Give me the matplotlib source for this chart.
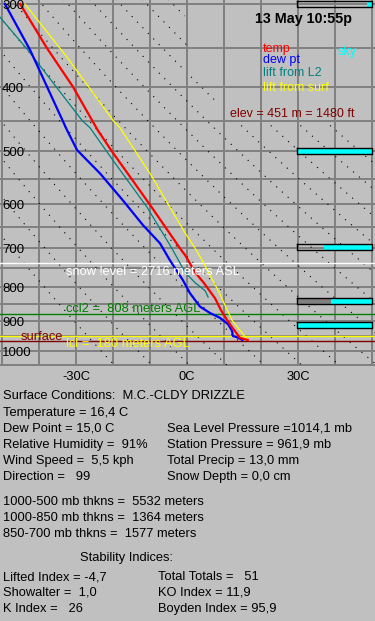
import numpy as np
import matplotlib.pyplot as plt
from matplotlib.transforms import offset_copy

plt.rcParams['font.family'] = ['Liberation Sans', 'DejaVu Sans']

# sounding profiles (pressure mb, temperature C)
temp_p = [300, 350, 400, 465, 500, 602, 700, 717, 761, 790, 833, 868, 899, 924, 940, 955, 962]
temp_t = [-45.1, -37.8, -30.8, -24.1, -20.3, -10.0, -1.9, -0.5, 2.2, 4.6, 7.6, 9.2, 10.9, 12.4, 13.4, 14.3, 16.4]

dew_p = [300, 352, 400, 465, 498, 540, 593, 646, 688, 730, 782, 818, 857, 876, 891, 911, 933, 949, 953, 962]
dew_t = [-49.2, -42.4, -37.8, -32.4, -29.7, -23.5, -17.3, -11.9, -7.3, -4.6, -1.1, 0.8, 3.5, 6.2, 8.9, 11.1, 12.2, 12.4, 13.5, 15.0]

l2_p = [309.5, 352, 449, 461, 516, 607, 700, 761, 789, 811, 829]
l2_t = [-51.5, -43.0, -28.4, -26.2, -20.0, -10.8, -4.1, -0.5, 2.2, 4.9, 5.7]

surf_p = [300, 361, 449, 461, 540, 664, 681, 700, 730, 810, 899, 962]
surf_t = [-43.8, -32.4, -20.0, -18.1, -10.0, -0.5, 0.8, 2.2, 4.1, 8.4, 12.2, 16.4]

# sky cover bars
sky_p = [300, 500, 697, 840, 912]
sky_cyan = [0.07, 1.0, 0.64, 0.55, 1.0]
sky_dark = [0.0, 0.0, 0.0, 0.45, 0.0]

# level lines
snow_p, ccl_p, lcl_p, sfc_p = 735.6, 880, 949, 965

p_labels = [300, 400, 500, 600, 700, 800, 900, 1000]
t_labels = [-30, 0, 30]
thetas = np.arange(250, 400, 10)

W, H = 375, 621
BG = '#c0c0c0'
fig = plt.figure(figsize=(W / 100, H / 100), dpi=100, facecolor=BG)
ax = fig.add_axes([0, 1 - 366 / H, 1, 366 / H])
ax.set_yscale('log')
ax.set_xlim(-50.54, 50.81)
ax.set_ylim(1053, 295.86)
ax.axis('off')

for p in range(300, 1051, 50):
    ax.axhline(p, color='#808080', lw=1.4, zorder=1)
for t in range(-50, 51, 10):
    ax.axvline(t, color='#808080', lw=1.4, zorder=1)

# dry adiabats, dotted (kept out of the legend corner)
pp = np.linspace(295, 1053, 300)
for th in thetas:
    tt = th * (pp / 1000) ** 0.286 - 273.15
    tt = np.where(((pp < 455) & (tt > 9)) | ((pp < 385) & (tt > 0)), np.nan, tt)
    ax.plot(tt, pp, color='black', lw=0.8, ls=(0, (1, 6)), zorder=2)

# level lines
ax.axhline(snow_p, color='white', lw=1, zorder=3)
ax.axhline(ccl_p, color='#008000', lw=1, zorder=3)
ax.axhline(lcl_p, color='#ffff00', lw=1, zorder=3)
ax.axhline(sfc_p, color='#800000', lw=1, zorder=3)

# profiles
ax.plot(l2_t, l2_p, color='#008080', lw=0.9, zorder=4)
ax.plot(surf_t, surf_p, color='#ffff00', lw=0.9, zorder=4)
ax.plot(dew_t, dew_p, color='#0000ff', lw=1.6, zorder=5)
ax.plot(temp_t, temp_p, color='#ff0000', lw=1.6, zorder=6)

# sky bars
x0, x1 = 29.7, 50.0
hh = np.exp(3 / 288)
for p, c, d in zip(sky_p, sky_cyan, sky_dark):
    yy = [p / hh, p * hh]
    if d > 0:
        ax.fill_betweenx(yy, x0, x0 + d * (x1 - x0), color='#808080', lw=0, zorder=6)
    ax.fill_betweenx(yy, x1 - c * (x1 - x0), x1, color='#00ffff', lw=0, zorder=6)
    ax.plot([x0, x1, x1, x0, x0], [yy[0], yy[0], yy[1], yy[1], yy[0]],
            color='black', lw=1, zorder=7)

# axis labels
tr = offset_copy(ax.transData, fig=fig, x=2, y=-5, units='dots')
for p in p_labels:
    ax.text(-50.54, p, str(p), transform=tr, fontsize=9.5, va='baseline', zorder=8)
tr2 = offset_copy(ax.transData, fig=fig, x=0, y=-15, units='dots')
for t in t_labels:
    ax.text(t, 1050, f'{t}C', transform=tr2, fontsize=9.3, ha='center', va='baseline')


def ftext(x, y, s, **kw):
    kw.setdefault('fontsize', 9.3)
    fig.text(x / W, 1 - y / H, s, va='baseline', **kw)


ftext(66, 275, 'snow level = 2716 meters ASL', color='white')
ftext(66, 311.7, 'ccl2 =  808 meters AGL', color='#008000')
ftext(20.7, 340, 'surface', color='#800000')
ftext(66, 346.7, 'lcl =  180 meters AGL', color='#ffff00')

ftext(255, 23.3, '13 May 10:55p', fontsize=10.3, fontweight='bold')
ftext(263, 51.7, 'temp', color='#ff0000', fontsize=9)
ftext(263, 63.3, 'dew pt', color='#0000ff', fontsize=9)
ftext(263, 76, 'lift from L2', color='#008080', fontsize=9)
ftext(263, 90.7, 'lift from surf', color='#ffff00', fontsize=9)
ftext(338, 55, 'sky', color='#00ffff', fontsize=9)
ftext(230, 116.7, 'elev = 451 m = 1480 ft', color='#800000', fontsize=9)

ftext(3.3, 399.3, 'Surface Conditions:  M.C.-CLDY DRIZZLE')
ftext(3.3, 415.7, 'Temperature = 16,4 C')
ftext(3.3, 431.7, 'Dew Point = 15,0 C')
ftext(3.3, 447.7, 'Relative Humidity =  91%')
ftext(3.3, 464, 'Wind Speed =  5,5 kph')
ftext(3.3, 480, 'Direction =   99')
ftext(166.7, 431.7, 'Sea Level Pressure =1014,1 mb')
ftext(166.7, 447.7, 'Station Pressure = 961,9 mb')
ftext(166.7, 464, 'Total Precip = 13,0 mm')
ftext(166.7, 480, 'Snow Depth = 0,0 cm')

ftext(3.3, 504.7, '1000-500 mb thkns =  5532 meters')
ftext(3.3, 520.7, '1000-850 mb thkns =  1364 meters')
ftext(3.3, 536.7, '850-700 mb thkns =  1577 meters')

ftext(80, 561, 'Stability Indices:')
ftext(3.3, 580, 'Lifted Index = -4,7')
ftext(3.3, 595.7, 'Showalter =  1,0')
ftext(3.3, 611.7, 'K Index =   26')
ftext(158.3, 580, 'Total Totals =   51')
ftext(158.3, 595.7, 'KO Index = 11,9')
ftext(158.3, 611.7, 'Boyden Index = 95,9')

fig.savefig('out.png', dpi=100, facecolor=BG)
